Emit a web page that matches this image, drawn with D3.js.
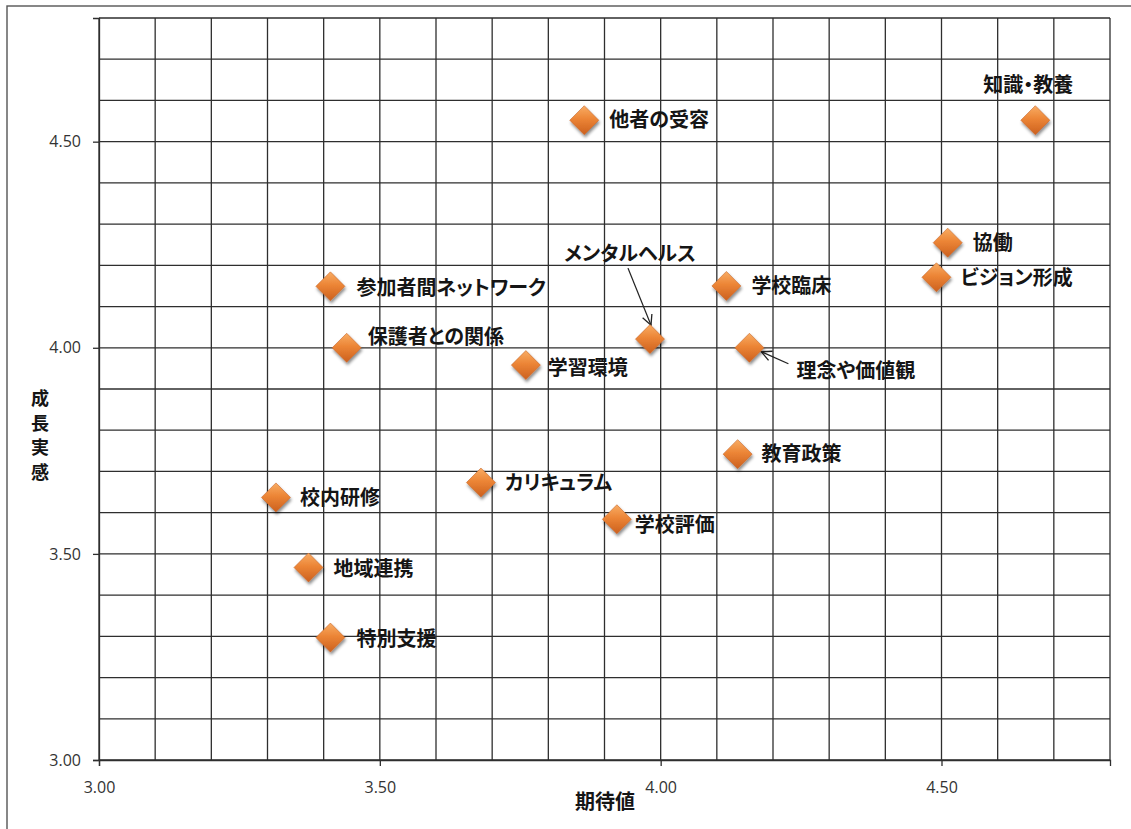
<!DOCTYPE html>
<html lang="ja">
<head>
<meta charset="utf-8">
<script src="https://cdn.jsdelivr.net/npm/d3@7"></script>
<style>
  html, body { margin: 0; padding: 0; background: #ffffff; }
  svg { display: block; }
  .tick text { font-family: "Open Sans", "Liberation Sans", sans-serif; font-size: 16px; fill: #333333; }
  .pt-label { font-family: "Noto Sans CJK JP", sans-serif; font-weight: 700; font-size: 20px; fill: #151515; font-feature-settings: "palt" 1; }
  .axis-title { font-family: "Noto Sans CJK JP", sans-serif; font-weight: 700; fill: #151515; }
</style>
</head>
<body>
<svg id="chart" width="1131" height="829"></svg>
<script>
// 研修項目ごとの「期待値」と「成長実感」
const items = ["知識・教養", "他者の受容", "協働", "ビジョン形成", "参加者間ネットワーク", "学校臨床",
  "メンタルヘルス", "理念や価値観", "保護者との関係", "学習環境", "教育政策", "カリキュラム",
  "学校評価", "校内研修", "地域連携", "特別支援"];
const expectation = [4.667, 3.864, 4.511, 4.491, 3.412, 4.117, 3.981, 4.158, 3.441, 3.760, 4.137, 3.680, 3.922, 3.315, 3.373, 3.412];
const growth      = [4.552, 4.552, 4.255, 4.171, 4.149, 4.150, 4.021, 4.000, 4.000, 3.958, 3.742, 3.673, 3.584, 3.637, 3.467, 3.297];

const axisTicks = [3.0, 3.5, 4.0, 4.5];
const axisMin = 3.0, axisMax = 4.8, gridStep = 0.1;

// ラベルの配置（マーカー中心からのずれ）
const labelPlacement = {
  "知識・教養":       { dx: -7, dy: -35, anchor: "middle" },
  "他者の受容":       { dx: 25, dy: 0 },
  "協働":             { dx: 25, dy: 0 },
  "ビジョン形成":     { dx: 24, dy: 1 },
  "参加者間ネットワーク": { dx: 26, dy: 1 },
  "学校臨床":         { dx: 25, dy: 0 },
  "メンタルヘルス":   { dx: -20, dy: -85, anchor: "middle", arrow: [[-22, -71], [1, -14]] },
  "理念や価値観":     { dx: 47, dy: 23, arrow: [[39, 16], [12, 4]] },
  "保護者との関係":   { dx: 21, dy: -11 },
  "学習環境":         { dx: 22, dy: 3 },
  "教育政策":         { dx: 24, dy: 0 },
  "カリキュラム":     { dx: 24, dy: 0 },
  "学校評価":         { dx: 18, dy: 6 },
  "校内研修":         { dx: 24, dy: 0 },
  "地域連携":         { dx: 25, dy: 1 },
  "特別支援":         { dx: 26, dy: 1 }
};

const data = items.map((name, i) => ({ name, x: expectation[i], y: growth[i] }));

const svg = d3.select("#chart");
const plot = { left: 99, right: 1110, top: 18, bottom: 760 };

const x = d3.scaleLinear().domain([axisMin, axisMax]).range([plot.left, plot.right]);
const y = d3.scaleLinear().domain([axisMin, axisMax]).range([plot.bottom, plot.top]);

const defs = svg.append("defs");
const grad = defs.append("linearGradient").attr("id", "markerFill")
  .attr("x1", "0").attr("y1", "0").attr("x2", "0").attr("y2", "1");
grad.append("stop").attr("offset", "0%").attr("stop-color", "#f8ac64");
grad.append("stop").attr("offset", "45%").attr("stop-color", "#ec8536");
grad.append("stop").attr("offset", "100%").attr("stop-color", "#cc601e");

const shadow = defs.append("filter").attr("id", "markerShadow")
  .attr("x", "-50%").attr("y", "-50%").attr("width", "200%").attr("height", "200%");
shadow.append("feDropShadow").attr("dx", 1).attr("dy", 2.5).attr("stdDeviation", 1.6)
  .attr("flood-color", "#000").attr("flood-opacity", 0.45);

defs.append("marker").attr("id", "arrowHead")
  .attr("viewBox", "0 0 12 12").attr("refX", 11).attr("refY", 6)
  .attr("markerWidth", 12).attr("markerHeight", 12).attr("markerUnits", "userSpaceOnUse")
  .attr("orient", "auto")
  .append("path").attr("d", "M1,1 L11,6 L1,11").attr("fill", "none")
  .attr("stroke", "#222").attr("stroke-width", 1.3);

// 外枠
svg.append("rect").attr("x", 7).attr("y", 6).attr("width", 1140).attr("height", 840)
  .attr("fill", "none").attr("stroke", "#555").attr("stroke-width", 1.4);

// グリッド線
const gridVals = d3.range(0, Math.round((axisMax - axisMin) / gridStep) + 1).map(k => axisMin + k * gridStep);
const grid = svg.append("g").attr("stroke", "#2e2e2e").attr("stroke-width", 1.3);
grid.selectAll("line.v").data(gridVals).join("line").attr("class", "v")
  .attr("x1", d => x(d)).attr("x2", d => x(d)).attr("y1", plot.top).attr("y2", plot.bottom);
grid.selectAll("line.h").data(gridVals).join("line").attr("class", "h")
  .attr("y1", d => y(d)).attr("y2", d => y(d)).attr("x1", plot.left).attr("x2", plot.right);

// 軸
const fmt = d3.format(".2f");
const xAxis = svg.append("g").attr("transform", `translate(0,${plot.bottom})`)
  .call(d3.axisBottom(x).tickValues(axisTicks).tickFormat(fmt).tickSize(6).tickPadding(16));
const yAxis = svg.append("g").attr("transform", `translate(${plot.left},0)`)
  .call(d3.axisLeft(y).tickValues(axisTicks).tickFormat(fmt).tickSize(6).tickPadding(12));
[xAxis, yAxis].forEach(g => {
  g.select(".domain").attr("stroke", "#2e2e2e").attr("stroke-width", 1.3);
  g.selectAll(".tick line").attr("stroke", "#2e2e2e").attr("stroke-width", 1.3);
});

// 軸タイトル
svg.append("text").attr("class", "axis-title")
  .attr("x", 605).attr("y", 809).attr("text-anchor", "middle")
  .style("font-size", "20px").text("期待値");
const yTitle = svg.append("text").attr("class", "axis-title")
  .attr("text-anchor", "middle").style("font-size", "18px");
Array.from("成長実感").forEach((ch, i) => {
  yTitle.append("tspan").attr("x", 40).attr("y", 405 + i * 24.6).text(ch);
});

// 注釈の矢印
const arrows = svg.append("g");
data.forEach(d => {
  const p = labelPlacement[d.name];
  if (!p || !p.arrow) return;
  const cx = x(d.x), cy = y(d.y);
  arrows.append("line")
    .attr("x1", cx + p.arrow[0][0]).attr("y1", cy + p.arrow[0][1])
    .attr("x2", cx + p.arrow[1][0]).attr("y2", cy + p.arrow[1][1])
    .attr("stroke", "#222").attr("stroke-width", 1.3)
    .attr("marker-end", "url(#arrowHead)");
});

// マーカー（ひし形）
const r = 14.5;
svg.append("g").selectAll("path").data(data).join("path")
  .attr("d", d => {
    const cx = x(d.x), cy = y(d.y);
    return `M${cx},${cy - r}L${cx + r},${cy}L${cx},${cy + r}L${cx - r},${cy}Z`;
  })
  .attr("fill", "url(#markerFill)")
  .attr("stroke", "#c8672a").attr("stroke-width", 0.6)
  .attr("filter", "url(#markerShadow)");

// 項目ラベル
svg.append("g").selectAll("text").data(data).join("text")
  .attr("class", "pt-label")
  .attr("x", d => x(d.x) + (labelPlacement[d.name].dx))
  .attr("y", d => y(d.y) + (labelPlacement[d.name].dy))
  .attr("dy", "0.36em")
  .attr("text-anchor", d => labelPlacement[d.name].anchor || "start")
  .text(d => d.name);
</script>
</body>
</html>
